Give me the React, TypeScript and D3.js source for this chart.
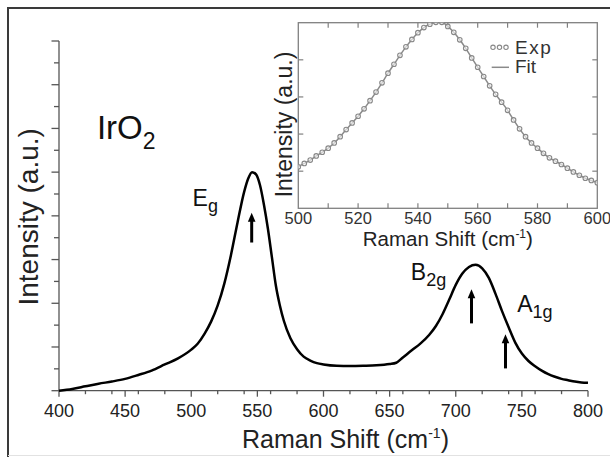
import React from "react";
import * as d3 from "d3";

// main spectrum (intensity in arbitrary units)
const mainShift = [400, 410, 420, 430, 440, 450, 460, 470, 480, 490, 500, 505, 510, 515, 520, 525, 530, 535, 540, 543, 546, 549, 552, 555, 558, 561, 564, 567, 570, 575, 580, 585, 590, 595, 600, 610, 620, 630, 640, 650, 655, 660, 667, 673, 680, 685, 690, 695, 700, 705, 710, 715, 720, 725, 730, 735, 740, 745, 750, 755, 760, 765, 770, 775, 780, 785, 790, 795, 800];
const mainIntensity = [0.0, 0.04, 0.1, 0.16, 0.21, 0.27, 0.36, 0.46, 0.6, 0.74, 0.94, 1.08, 1.3, 1.58, 1.95, 2.45, 3.1, 3.85, 4.55, 4.85, 5.0, 4.95, 4.7, 4.25, 3.7, 3.05, 2.4, 1.95, 1.6, 1.2, 0.95, 0.78, 0.69, 0.63, 0.6, 0.57, 0.565, 0.57, 0.58, 0.61, 0.64, 0.76, 0.93, 1.07, 1.28, 1.48, 1.75, 2.08, 2.42, 2.68, 2.83, 2.88, 2.8, 2.58, 2.22, 1.82, 1.45, 1.1, 0.85, 0.68, 0.56, 0.46, 0.38, 0.32, 0.27, 0.24, 0.21, 0.19, 0.18];

// inset: Eg band, experimental points
const insetShift = [500, 502, 504, 506, 508, 510, 512, 514, 516, 518, 520, 522, 524, 526, 528, 530, 532, 534, 536, 538, 540, 542, 544, 546, 548, 550, 552, 554, 556, 558, 560, 562, 564, 566, 568, 570, 572, 574, 576, 578, 580, 582, 584, 586, 588, 590, 592, 594, 596, 598, 600];
const insetExp = [1.12, 1.21, 1.3, 1.41, 1.51, 1.62, 1.76, 1.93, 2.12, 2.3, 2.48, 2.68, 2.9, 3.13, 3.38, 3.64, 3.88, 4.12, 4.35, 4.55, 4.73, 4.87, 4.96, 5.01, 5.01, 4.9, 4.74, 4.54, 4.31, 4.05, 3.8, 3.55, 3.3, 3.07, 2.86, 2.64, 2.38, 2.14, 1.93, 1.76, 1.62, 1.48, 1.36, 1.27, 1.18, 1.08, 0.98, 0.89, 0.81, 0.75, 0.69];

const mainTickLabels = [400, 450, 500, 550, 600, 650, 700, 750, 800];
const insetTickLabels = [500, 520, 540, 560, 580, 600];

// peak annotations: [label, subscript, x, y] and arrows [x, yFrom, yTo]
const peakLabels: [string, string, number, number][] = [
  ["E", "g", 501, 4.23],
  ["B", "2g", 666, 2.54],
  ["A", "1g", 746.5, 1.81],
];
const arrows: [number, number, number][] = [
  [545.7, 3.39, 4.07],
  [711.9, 1.54, 2.32],
  [737.6, 0.51, 1.29],
];

const FONT = "'Liberation Sans', Arial, Helvetica, sans-serif";

export default function App() {
  const W = 610, H = 457;
  const x = d3.scaleLinear().domain([400, 800]).range([59, 588]);
  const y = d3.scaleLinear().domain([0, 8]).range([390.7, 41]);

  const xi = d3.scaleLinear().domain([500, 600]).range([298.3, 597.3]);
  const yi = d3.scaleLinear().domain([0, 5]).range([208.3, 22.7]);

  const mainLine = d3.line<number>()
    .x((d, i) => x(mainShift[i]))
    .y((d) => y(d))
    .curve(d3.curveMonotoneX);

  const fitLine = d3.line<number>()
    .x((d, i) => xi(insetShift[i]))
    .y((d) => yi(d))
    .curve(d3.curveMonotoneX);

  const xMinor = x.ticks(16).filter((t) => !mainTickLabels.includes(t));
  const yMajor = y.ticks(8);
  const yMinor = y.ticks(16).filter((t) => !yMajor.includes(t));
  const xiTicks = xi.ticks(10).filter((t) => t > 500 && t < 600);
  const yiTicks = yi.ticks(5).filter((t) => t > 0 && t < 5);

  return (
    <svg width={W} height={H} style={{ position: "absolute", left: 0, top: 0, background: "#fff" }} fontFamily={FONT}>
      {/* outer frame */}
      <path d={`M8,${H} L8,8 L${W},8`} fill="none" stroke="#3a3a3a" strokeWidth={2} />
      <line x1={8} x2={W} y1={455.5} y2={455.5} stroke="#e2e2e2" strokeWidth={1} />

      {/* main axes */}
      <g stroke="#555" strokeWidth={1.3}>
        <line x1={x(400)} x2={x(800)} y1={y(0)} y2={y(0)} />
        <line x1={x(400)} x2={x(400)} y1={y(0)} y2={y(8)} />
        {mainTickLabels.map((t) => (
          <line key={"xM" + t} x1={x(t)} x2={x(t)} y1={y(0)} y2={y(0) + 6} />
        ))}
        {xMinor.map((t) => (
          <line key={"xm" + t} x1={x(t)} x2={x(t)} y1={y(0)} y2={y(0) + 3.5} />
        ))}
        {yMajor.map((t) => (
          <line key={"yM" + t} x1={x(400) - 7.5} x2={x(400)} y1={y(t)} y2={y(t)} />
        ))}
        {yMinor.map((t) => (
          <line key={"ym" + t} x1={x(400) - 5} x2={x(400)} y1={y(t)} y2={y(t)} />
        ))}
      </g>
      <g fontSize={18} fill="#222" textAnchor="middle">
        {mainTickLabels.map((t) => (
          <text key={"xl" + t} x={x(t)} y={417}>{t}</text>
        ))}
      </g>
      <text x={242} y={448} fontSize={25} fill="#222">
        Raman Shift (cm<tspan dy={-10} fontSize={14}>-1</tspan><tspan dy={10}>)</tspan>
      </text>
      <text transform={`translate(38,${(y(0) + y(8)) / 2 + 1}) rotate(-90)`} textAnchor="middle" fontSize={28} fill="#222">
        Intensity (a.u.)
      </text>

      {/* spectrum */}
      <path d={mainLine(mainIntensity) || ""} fill="none" stroke="#000" strokeWidth={2.5} />

      {/* annotations */}
      <text x={x(428.7)} y={y(5.75)} fontSize={33} fill="#111">
        IrO<tspan dy={10} fontSize={23}>2</tspan>
      </text>
      {peakLabels.map(([lab, sub, px, py]) => (
        <text key={lab} x={x(px)} y={y(py)} fontSize={23} fill="#111">
          {lab}<tspan dy={6} fontSize={18}>{sub}</tspan>
        </text>
      ))}
      {arrows.map(([ax, y0, y1]) => (
        <g key={"a" + ax}>
          <line x1={x(ax)} x2={x(ax)} y1={y(y0)} y2={y(y1) + 7} stroke="#000" strokeWidth={3} />
          <path d={`M${x(ax) - 3.8},${y(y1) + 9} L${x(ax)},${y(y1)} L${x(ax) + 3.8},${y(y1) + 9} Z`} fill="#000" />
        </g>
      ))}

      {/* inset */}
      <defs>
        <clipPath id="insetClip">
          <rect x={xi(500)} y={yi(5)} width={xi(600) - xi(500)} height={yi(0) - yi(5)} />
        </clipPath>
      </defs>
      <rect x={xi(500)} y={yi(5)} width={xi(600) - xi(500)} height={yi(0) - yi(5)} fill="#fff" stroke="#808080" strokeWidth={1.3} />
      <g stroke="#808080" strokeWidth={1.2}>
        {xiTicks.map((t) => (
          <g key={"xi" + t}>
            <line x1={xi(t)} x2={xi(t)} y1={yi(0)} y2={yi(0) - 5} />
            <line x1={xi(t)} x2={xi(t)} y1={yi(5)} y2={yi(5) + 5} />
          </g>
        ))}
        {yiTicks.map((t) => (
          <g key={"yi" + t}>
            <line x1={xi(500)} x2={xi(500) + 5} y1={yi(t)} y2={yi(t)} />
            <line x1={xi(600)} x2={xi(600) - 5} y1={yi(t)} y2={yi(t)} />
          </g>
        ))}
      </g>
      <g clipPath="url(#insetClip)">
        <path d={fitLine(insetExp) || ""} fill="none" stroke="#8a8a8a" strokeWidth={1.5} />
        {insetExp.map((v, i) => (
          <circle key={"c" + i} cx={xi(insetShift[i])} cy={yi(v)} r={2.3} fill="#fff" fillOpacity={0.6} stroke="#888" strokeWidth={1.1} />
        ))}
      </g>
      <g fontSize={16.5} fill="#333" textAnchor="middle">
        {insetTickLabels.map((t) => (
          <text key={"il" + t} x={xi(t)} y={224}>{t}</text>
        ))}
      </g>
      <text x={(xi(500) + xi(600)) / 2} y={246} textAnchor="middle" fontSize={20.5} fill="#222">
        Raman Shift (cm<tspan dy={-8} fontSize={12}>-1</tspan><tspan dy={8}>)</tspan>
      </text>
      <text transform={`translate(292,124.5) rotate(-90)`} textAnchor="middle" fontSize={23} fill="#222">
        Intensity (a.u.)
      </text>

      {/* legend */}
      {[493, 499.5, 506].map((cx) => (
        <circle key={"lg" + cx} cx={cx} cy={47.3} r={2.2} fill="#fff" stroke="#888" strokeWidth={1.1} />
      ))}
      <text x={515} y={54.3} fontSize={19} fill="#333" letterSpacing={1.5}>Exp</text>
      <line x1={491.7} x2={509} y1={67.3} y2={67.3} stroke="#8a8a8a" strokeWidth={1.5} />
      <text x={515} y={73.3} fontSize={19} fill="#333">Fit</text>
    </svg>
  );
}
